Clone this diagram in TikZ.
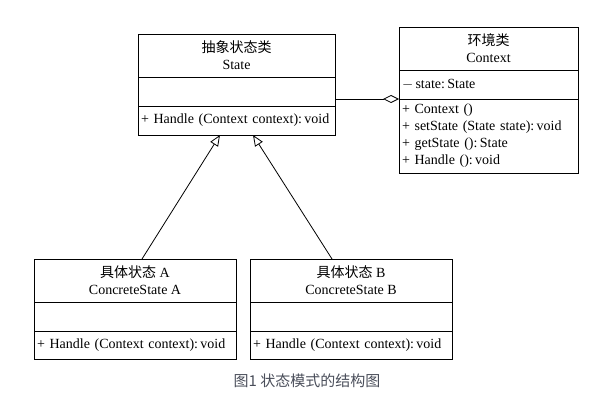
\documentclass[tikz,border=0pt]{standalone}
\usepackage{fontspec}
\setmainfont{Liberation Serif}
\newfontfamily\cjk{Noto Sans CJK SC}
\usetikzlibrary{positioning,arrows.meta}
\definecolor{capgray}{HTML}{4A4E5A}
\tikzset{
  part/.style={draw, line width=0.9pt, outer sep=0pt, inner sep=3pt, font=\fontsize{14}{17}\selectfont},
  namepart/.style={part, align=center, minimum height=43pt},
  oppart/.style={part, align=left, text width=#1},
  inherit/.style={line width=0.8pt, -{Triangle[open, length=11pt, width=9pt]}},
  aggr/.style={line width=0.8pt, -{Diamond[open, length=16pt, width=8pt]}}
}

\begin{document}
\begin{tikzpicture}[x=1pt, y=-1pt]
  %%%%% START %%%%%
  \useasboundingbox (0,0) rectangle (599,403);

  % abstract state
  \node[namepart, minimum width=197pt, anchor=north] (state) at (236.5,34) {{\cjk 抽象状态类}\\State};
  \node[part, minimum width=197pt, minimum height=29pt, below=0pt of state] (stateAttr) {};
  \node[oppart=191pt, minimum height=29pt, below=0pt of stateAttr] (stateOp) {+ Handle (Context context):\,void};

  % context
  \node[namepart, minimum width=179pt, anchor=north] (ctx) at (488.5,27) {{\cjk 环境类}\\Context};
  \node[oppart=173pt, minimum height=29pt, below=0pt of ctx] (ctxAttr) {$-$\,state:\,State};
  \node[oppart=173pt, minimum height=74pt, below=0pt of ctxAttr] (ctxOp)
    {+ Context ()\\+ setState (State state):\,void\\+ getState ():\,State\\+ Handle ():\,void};

  % concrete states
  \node[namepart, minimum width=202pt, anchor=north] (concA) at (135,259) {{\cjk 具体状态} A\\ConcreteState A};
  \node[part, minimum width=202pt, minimum height=29pt, below=0pt of concA] (concAAttr) {};
  \node[oppart=196pt, minimum height=28pt, below=0pt of concAAttr] (concAOp) {+ Handle (Context context):\,void};

  \node[namepart, minimum width=202pt, anchor=north] (concB) at (351,259) {{\cjk 具体状态} B\\ConcreteState B};
  \node[part, minimum width=202pt, minimum height=29pt, below=0pt of concB] (concBAttr) {};
  \node[oppart=196pt, minimum height=28pt, below=0pt of concBAttr] (concBOp) {+ Handle (Context context):\,void};

  % relations
  \draw[inherit] ([xshift=7pt]concA.north) -- ([xshift=-16.5pt]stateOp.south);
  \draw[inherit] ([xshift=-19pt]concB.north) -- ([xshift=16.5pt]stateOp.south);
  \draw[aggr] (stateAttr.east |- ctxAttr.south west) -- (ctxAttr.south west);

  \node[text=capgray, font=\fontsize{15}{17}\selectfont\cjk] (caption) at (307,381) {图1 状态模式的结构图};
  %%%%% END %%%%%
\end{tikzpicture}
\end{document}
